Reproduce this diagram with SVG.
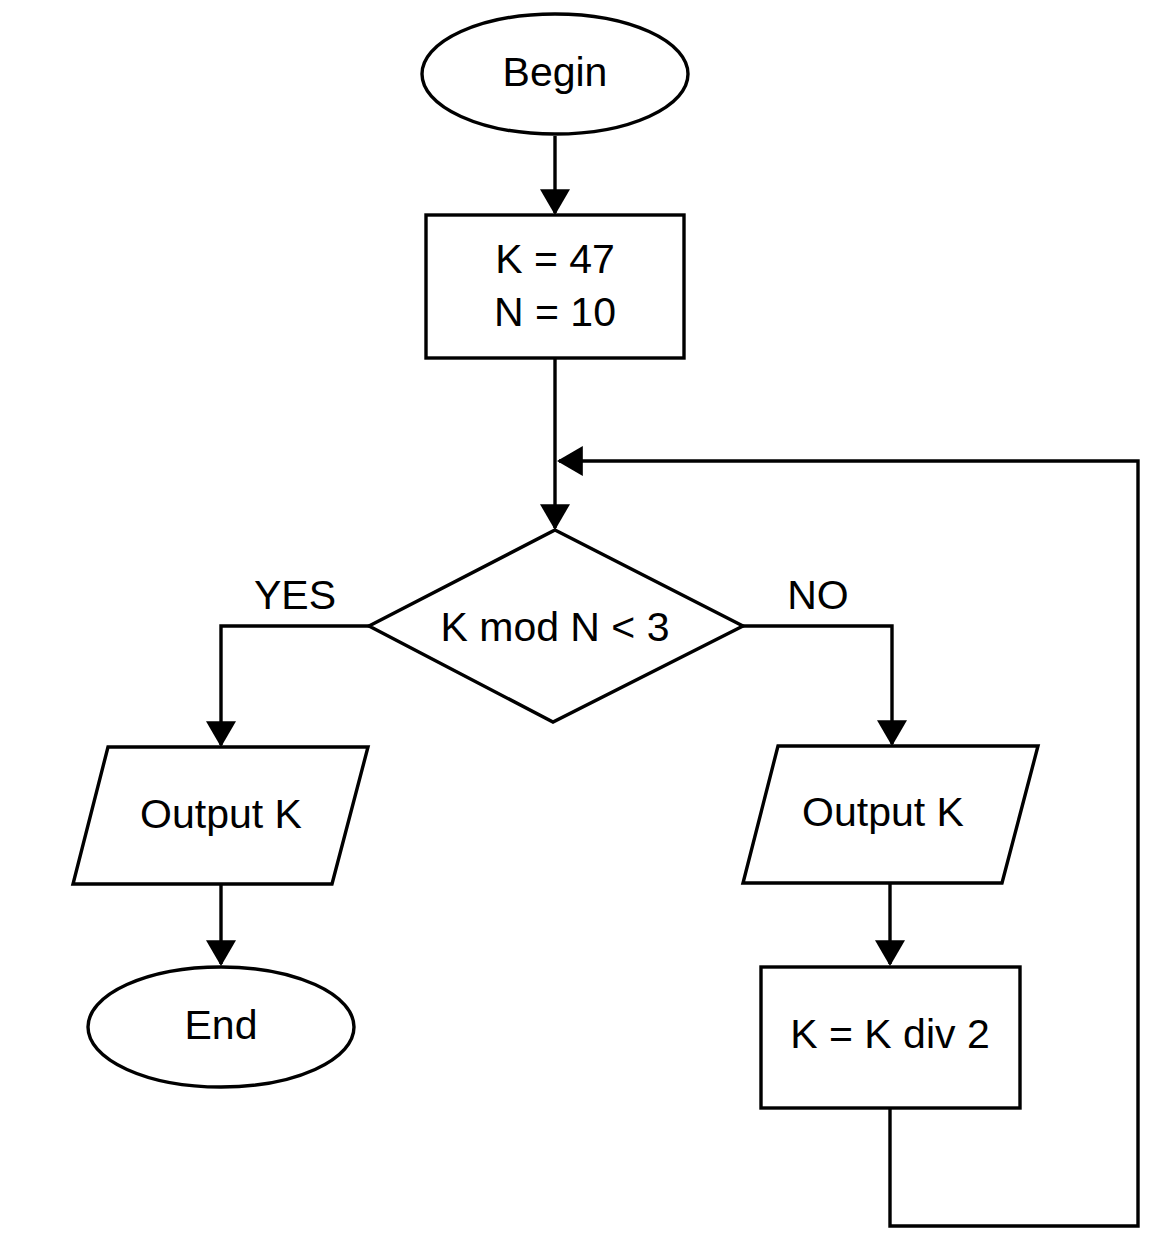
<svg xmlns="http://www.w3.org/2000/svg" width="1159" height="1248" viewBox="0 0 1159 1248">
<style>
.shape{fill:#fff;stroke:#000;stroke-width:3.4}
.edge{fill:none;stroke:#000;stroke-width:3.4}
text{font-family:"Liberation Sans",Arial,sans-serif;font-size:41px;fill:#000;text-anchor:middle}
</style>
<defs>
<marker id="arr" markerUnits="userSpaceOnUse" markerWidth="26" markerHeight="30" viewBox="0 0 25 29" refX="23" refY="14.5" orient="auto">
<path d="M0,0 L25,14.5 L0,29 Z" fill="#000"/>
</marker>
</defs>
<rect width="1159" height="1248" fill="#fff"/>
<g id="connectors">
<path class="edge" d="M555,136 V213" marker-end="url(#arr)"/>
<path class="edge" d="M555,358 V528" marker-end="url(#arr)"/>
<path class="edge" d="M890,1108 V1226 H1138 V461 H559" marker-end="url(#arr)"/>
<path class="edge" d="M369,626 H221 V745" marker-end="url(#arr)"/>
<path class="edge" d="M743,626 H892 V744" marker-end="url(#arr)"/>
<path class="edge" d="M221,884 V964" marker-end="url(#arr)"/>
<path class="edge" d="M890,883 V964" marker-end="url(#arr)"/>
</g>
<g id="begin">
<ellipse class="shape" cx="555" cy="74" rx="133" ry="60"/>
<text x="555" y="86">Begin</text>
</g>
<g id="init">
<rect class="shape" x="426" y="215" width="258" height="143"/>
<text x="555" y="273">K = 47</text>
<text x="555" y="326">N = 10</text>
</g>
<g id="decision">
<polygon class="shape" points="555,530 743,626 553,722 369,626"/>
<text x="555" y="641">K mod N &lt; 3</text>
</g>
<g id="label-yes"><text x="295" y="609">YES</text></g>
<g id="label-no"><text x="818" y="609">NO</text></g>
<g id="output-left">
<polygon class="shape" points="108,747 368,747 332,884 73,884"/>
<text x="221" y="828">Output K</text>
</g>
<g id="end">
<ellipse class="shape" cx="221" cy="1027" rx="133" ry="60"/>
<text x="221" y="1039">End</text>
</g>
<g id="output-right">
<polygon class="shape" points="778,746 1038,746 1002,883 743,883"/>
<text x="883" y="826">Output K</text>
</g>
<g id="update">
<rect class="shape" x="761" y="967" width="259" height="141"/>
<text x="890" y="1048">K = K div 2</text>
</g>
</svg>
